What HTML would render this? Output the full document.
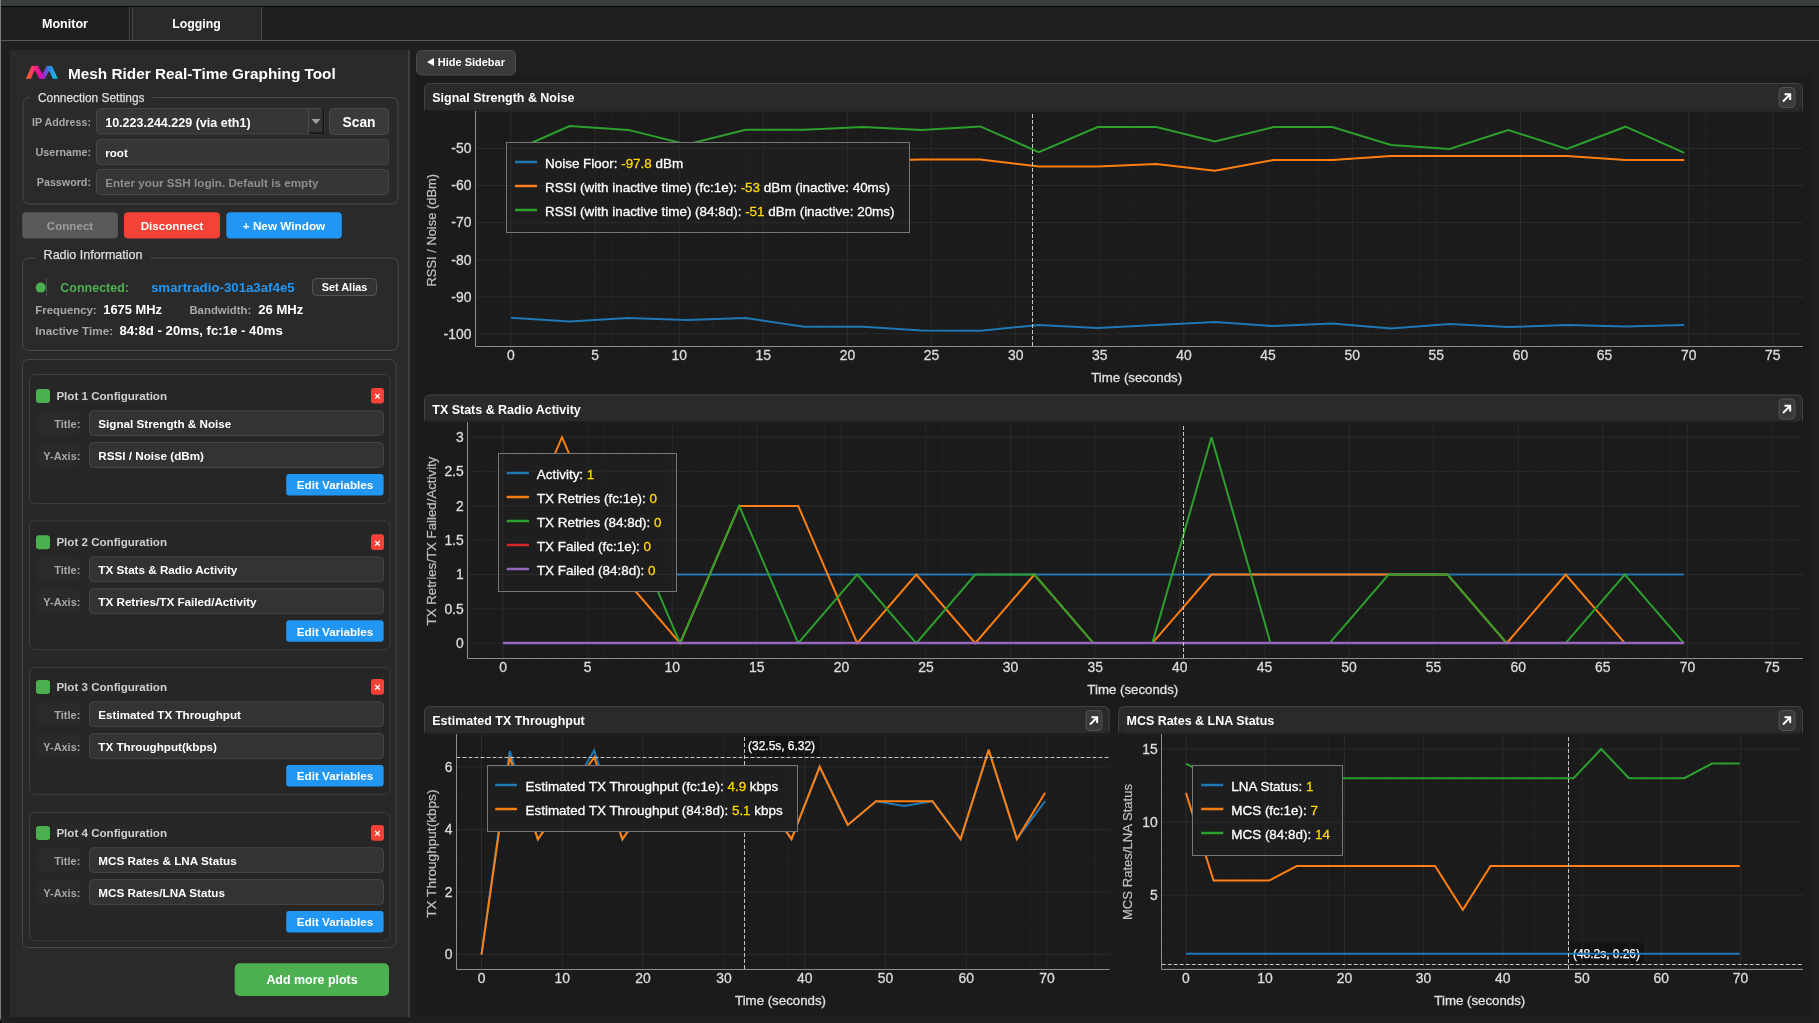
<!DOCTYPE html>
<html><head><meta charset="utf-8"><title>Mesh Rider Real-Time Graphing Tool</title>
<style>html,body{margin:0;padding:0;background:#1f1f1f;overflow:hidden;width:1819px;height:1023px}
svg{display:block} text{font-family:'Liberation Sans', sans-serif}</style></head>
<body><svg width="1819" height="1023" viewBox="0 0 1819 1023" font-family="Liberation Sans, sans-serif">
<rect x="0" y="0" width="1819" height="1023" fill="#1f1f1f"/>
<rect x="0" y="0" width="1819" height="6" fill="#383e3c"/>
<rect x="0" y="6" width="1819" height="1" fill="#050505"/>
<rect x="0" y="7" width="1819" height="33" fill="#1f1f1f"/>
<rect x="133" y="7" width="128" height="33" fill="#2a2a2a"/>
<rect x="129" y="7" width="1" height="33" fill="#4a4a4a"/>
<rect x="132" y="7" width="1" height="33" fill="#4a4a4a"/>
<rect x="261" y="7" width="1" height="33" fill="#4a4a4a"/>
<rect x="0" y="40" width="1819" height="1" fill="#575757"/>
<text x="65" y="28" font-size="12.55" fill="#fff" font-weight="bold" text-anchor="middle">Monitor</text>
<text x="196.5" y="28" font-size="12.3" fill="#fff" font-weight="bold" text-anchor="middle">Logging</text>
<rect x="0" y="0" width="1" height="1019" fill="#7c7c7c"/>
<path d="M0,1019 Q0.5,1021 3,1023 L0,1023 Z" fill="#000"/><path d="M0.5,1019 Q1,1021.5 3.5,1023" stroke="#444" fill="none"/>
<rect x="10" y="50" width="398" height="967" fill="#2a2a2a"/>
<rect x="408" y="50" width="2" height="967" fill="#3f3f3f"/>
<defs><linearGradient id="lg" gradientUnits="userSpaceOnUse" x1="26" y1="72" x2="58" y2="72"><stop offset="0" stop-color="#ff6a1a"/><stop offset="0.2" stop-color="#ff3a60"/><stop offset="0.38" stop-color="#f0109a"/><stop offset="0.5" stop-color="#d00cc0"/><stop offset="0.6" stop-color="#7a40d0"/><stop offset="0.68" stop-color="#3a78e0"/><stop offset="1" stop-color="#0cd0f0"/></linearGradient></defs>
<g fill="url(#lg)"><polygon points="26,78.8 30.9,78.8 36.6,65.9 31.7,65.9"/><polygon points="33,65.9 38.2,65.9 44.5,78.8 39.4,78.8"/><polygon points="39.8,78.8 44.9,78.8 51.4,65.9 46.5,65.9"/><polygon points="46.9,65.9 51.9,65.9 57.8,78.8 52.8,78.8"/><rect x="31.7" y="65.9" width="6.5" height="3"/><rect x="46.5" y="65.9" width="5.4" height="3"/></g>
<text x="68" y="78.8" font-size="15.34" fill="#fff" font-weight="bold">Mesh Rider Real-Time Graphing Tool</text>
<rect x="23.0" y="97.5" width="375" height="106.5" rx="6" fill="none" stroke="#4a4a4a" stroke-width="1"/>
<rect x="30" y="93" width="122.6" height="8" fill="#2a2a2a"/>
<text x="38" y="102.2" font-size="11.91" fill="#dedede" stroke="#dedede" stroke-width="0.25">Connection Settings</text>
<text x="91" y="125.5" font-size="10.72" fill="#a8a8a8" font-weight="bold" text-anchor="end">IP Address:</text>
<rect x="96.5" y="108.5" width="227.5" height="25.5" fill="#363636" rx="4" stroke="#474747" stroke-width="1"/>
<rect x="308.5" y="109" width="15.5" height="24.5" fill="#343434"/>
<rect x="308" y="109" width="1" height="24.5" fill="#4a4a4a"/>
<polygon points="311.5,119 320.5,119 316,124" fill="#a0a0a0"/>
<rect x="309" y="132.5" width="15" height="1.5" fill="#161616"/>
<rect x="322.5" y="109" width="1.5" height="25" fill="#161616"/>
<text x="105.2" y="126.5" font-size="12.53" fill="#fff" font-weight="bold">10.223.244.229 (via eth1)</text>
<rect x="329.5" y="108.5" width="59" height="26" fill="#3a3a3a" rx="4" stroke="#4a4a4a" stroke-width="1"/>
<text x="359" y="126.8" font-size="13.81" fill="#fff" font-weight="bold" text-anchor="middle">Scan</text>
<text x="91" y="156.2" font-size="10.72" fill="#a8a8a8" font-weight="bold" text-anchor="end">Username:</text>
<rect x="96.5" y="139.5" width="292" height="25" fill="#363636" rx="4" stroke="#474747" stroke-width="1"/>
<text x="105.2" y="157" font-size="11.63" fill="#fff" font-weight="bold">root</text>
<text x="91" y="186" font-size="10.72" fill="#a8a8a8" font-weight="bold" text-anchor="end">Password:</text>
<rect x="96.5" y="169.5" width="292" height="25" fill="#363636" rx="4" stroke="#474747" stroke-width="1"/>
<text x="105.2" y="187" font-size="11.68" fill="#8e8e8e" font-weight="bold">Enter your SSH login. Default is empty</text>
<rect x="22.2" y="212.2" width="95.7" height="26.3" fill="#5a5a5a" rx="4"/>
<text x="70" y="229.8" font-size="11.6" fill="#9c9c9c" font-weight="bold" text-anchor="middle">Connect</text>
<rect x="124" y="212.2" width="96" height="26.3" fill="#f44336" rx="4"/>
<text x="172" y="229.8" font-size="11.6" fill="#fff" font-weight="bold" text-anchor="middle">Disconnect</text>
<rect x="226.3" y="212.2" width="115.5" height="26.3" fill="#2196f3" rx="4"/>
<text x="284" y="229.8" font-size="11.75" fill="#fff" font-weight="bold" text-anchor="middle">+ New Window</text>
<rect x="22.7" y="258.0" width="375.5" height="92.5" rx="6" fill="none" stroke="#4a4a4a" stroke-width="1"/>
<rect x="35.6" y="253.5" width="115" height="8" fill="#2a2a2a"/>
<text x="43.6" y="258.8" font-size="12.54" fill="#dedede" stroke="#dedede" stroke-width="0.25">Radio Information</text>
<circle cx="40.7" cy="287.6" r="5" fill="#4caf50"/>
<rect x="46" y="278" width="1" height="18" fill="#4e4e4e"/>
<text x="60.3" y="292" font-size="12.49" fill="#4caf50" font-weight="bold">Connected:</text>
<text x="151" y="292" font-size="13.25" fill="#2196f3" font-weight="bold">smartradio-301a3af4e5</text>
<rect x="312.5" y="278.5" width="64" height="17" fill="#333333" rx="4" stroke="#555555" stroke-width="1"/>
<text x="344.5" y="290.6" font-size="10.89" fill="#fff" font-weight="bold" text-anchor="middle">Set Alias</text>
<text x="35.3" y="313.8" font-size="11.39" fill="#a8a8a8" font-weight="bold">Frequency:</text>
<text x="103.3" y="313.8" font-size="12.88" fill="#fff" font-weight="bold">1675 MHz</text>
<text x="189.4" y="313.8" font-size="11.39" fill="#a8a8a8" font-weight="bold">Bandwidth:</text>
<text x="258.3" y="313.8" font-size="13.06" fill="#fff" font-weight="bold">26 MHz</text>
<text x="35.3" y="334.6" font-size="11.7" fill="#a8a8a8" font-weight="bold">Inactive Time:</text>
<text x="119.4" y="334.6" font-size="13.19" fill="#fff" font-weight="bold">84:8d - 20ms, fc:1e - 40ms</text>
<rect x="22.5" y="359.5" width="373.5" height="588" rx="6" fill="#282828" stroke="#474747" stroke-width="1"/>
<rect x="29.5" y="374.5" width="360.5" height="129" rx="6" fill="#262626" stroke="#3e3e3e" stroke-width="1"/>
<rect x="36" y="389" width="14" height="14" fill="#4caf50" rx="3"/>
<rect x="54" y="387" width="104" height="17" fill="#282828" rx="8"/>
<text x="56.4" y="400" font-size="11.58" fill="#cfcfcf" font-weight="bold">Plot 1 Configuration</text>
<rect x="371" y="388" width="13" height="15.6" fill="#f44336" rx="3"/>
<text x="377.5" y="400.2" font-size="11" fill="#fff" font-weight="bold" text-anchor="middle">×</text>
<rect x="36.3" y="410.4" width="44.1" height="25.3" fill="#2a2a2a" rx="7"/>
<text x="80.4" y="427.8" font-size="11.05" fill="#a8a8a8" font-weight="bold" text-anchor="end">Title:</text>
<rect x="89.5" y="410.7" width="294" height="24.8" fill="#333333" rx="4" stroke="#464646" stroke-width="1"/>
<text x="98.3" y="428" font-size="11.68" fill="#fff" font-weight="bold">Signal Strength &amp; Noise</text>
<rect x="36.3" y="442.3" width="44.1" height="25.4" fill="#2a2a2a" rx="7"/>
<text x="80.4" y="459.8" font-size="10.94" fill="#a8a8a8" font-weight="bold" text-anchor="end">Y-Axis:</text>
<rect x="89.5" y="442.5" width="294" height="25" fill="#333333" rx="4" stroke="#464646" stroke-width="1"/>
<text x="98.3" y="460" font-size="11.68" fill="#fff" font-weight="bold">RSSI / Noise (dBm)</text>
<rect x="286.2" y="474" width="97.4" height="21.5" fill="#2196f3" rx="3"/>
<text x="335" y="489.2" font-size="11.68" fill="#fff" font-weight="bold" text-anchor="middle">Edit Variables</text>
<rect x="29.5" y="520.9" width="360.5" height="128.80000000000007" rx="6" fill="#262626" stroke="#3e3e3e" stroke-width="1"/>
<rect x="36" y="535.3" width="14" height="14" fill="#4caf50" rx="3"/>
<rect x="54" y="533.3" width="104" height="17" fill="#282828" rx="8"/>
<text x="56.4" y="546.3" font-size="11.58" fill="#cfcfcf" font-weight="bold">Plot 2 Configuration</text>
<rect x="371" y="534.3" width="13" height="15.6" fill="#f44336" rx="3"/>
<text x="377.5" y="546.5" font-size="11" fill="#fff" font-weight="bold" text-anchor="middle">×</text>
<rect x="36.3" y="556.6999999999999" width="44.1" height="25.3" fill="#2a2a2a" rx="7"/>
<text x="80.4" y="574.0999999999999" font-size="11.05" fill="#a8a8a8" font-weight="bold" text-anchor="end">Title:</text>
<rect x="89.5" y="557.0" width="294" height="24.8" fill="#333333" rx="4" stroke="#464646" stroke-width="1"/>
<text x="98.3" y="574.3" font-size="11.68" fill="#fff" font-weight="bold">TX Stats &amp; Radio Activity</text>
<rect x="36.3" y="588.5999999999999" width="44.1" height="25.4" fill="#2a2a2a" rx="7"/>
<text x="80.4" y="606.0999999999999" font-size="10.94" fill="#a8a8a8" font-weight="bold" text-anchor="end">Y-Axis:</text>
<rect x="89.5" y="588.8" width="294" height="25" fill="#333333" rx="4" stroke="#464646" stroke-width="1"/>
<text x="98.3" y="606.3" font-size="11.68" fill="#fff" font-weight="bold">TX Retries/TX Failed/Activity</text>
<rect x="286.2" y="620.3" width="97.4" height="21.5" fill="#2196f3" rx="3"/>
<text x="335" y="635.5" font-size="11.68" fill="#fff" font-weight="bold" text-anchor="middle">Edit Variables</text>
<rect x="29.5" y="667.4" width="360.5" height="127.0" rx="6" fill="#262626" stroke="#3e3e3e" stroke-width="1"/>
<rect x="36" y="680.1" width="14" height="14" fill="#4caf50" rx="3"/>
<rect x="54" y="678.1" width="104" height="17" fill="#282828" rx="8"/>
<text x="56.4" y="691.1" font-size="11.58" fill="#cfcfcf" font-weight="bold">Plot 3 Configuration</text>
<rect x="371" y="679.1" width="13" height="15.6" fill="#f44336" rx="3"/>
<text x="377.5" y="691.3000000000001" font-size="11" fill="#fff" font-weight="bold" text-anchor="middle">×</text>
<rect x="36.3" y="701.5" width="44.1" height="25.3" fill="#2a2a2a" rx="7"/>
<text x="80.4" y="718.9" font-size="11.05" fill="#a8a8a8" font-weight="bold" text-anchor="end">Title:</text>
<rect x="89.5" y="701.8000000000001" width="294" height="24.8" fill="#333333" rx="4" stroke="#464646" stroke-width="1"/>
<text x="98.3" y="719.1" font-size="11.68" fill="#fff" font-weight="bold">Estimated TX Throughput</text>
<rect x="36.3" y="733.4" width="44.1" height="25.4" fill="#2a2a2a" rx="7"/>
<text x="80.4" y="750.9" font-size="10.94" fill="#a8a8a8" font-weight="bold" text-anchor="end">Y-Axis:</text>
<rect x="89.5" y="733.6" width="294" height="25" fill="#333333" rx="4" stroke="#464646" stroke-width="1"/>
<text x="98.3" y="751.1" font-size="11.68" fill="#fff" font-weight="bold">TX Throughput(kbps)</text>
<rect x="286.2" y="765.1" width="97.4" height="21.5" fill="#2196f3" rx="3"/>
<text x="335" y="780.3000000000001" font-size="11.68" fill="#fff" font-weight="bold" text-anchor="middle">Edit Variables</text>
<rect x="29.5" y="812.3" width="360.5" height="128.5" rx="6" fill="#262626" stroke="#3e3e3e" stroke-width="1"/>
<rect x="36" y="826.1" width="14" height="14" fill="#4caf50" rx="3"/>
<rect x="54" y="824.1" width="104" height="17" fill="#282828" rx="8"/>
<text x="56.4" y="837.1" font-size="11.58" fill="#cfcfcf" font-weight="bold">Plot 4 Configuration</text>
<rect x="371" y="825.1" width="13" height="15.6" fill="#f44336" rx="3"/>
<text x="377.5" y="837.3000000000001" font-size="11" fill="#fff" font-weight="bold" text-anchor="middle">×</text>
<rect x="36.3" y="847.5" width="44.1" height="25.3" fill="#2a2a2a" rx="7"/>
<text x="80.4" y="864.9" font-size="11.05" fill="#a8a8a8" font-weight="bold" text-anchor="end">Title:</text>
<rect x="89.5" y="847.8000000000001" width="294" height="24.8" fill="#333333" rx="4" stroke="#464646" stroke-width="1"/>
<text x="98.3" y="865.1" font-size="11.68" fill="#fff" font-weight="bold">MCS Rates &amp; LNA Status</text>
<rect x="36.3" y="879.4" width="44.1" height="25.4" fill="#2a2a2a" rx="7"/>
<text x="80.4" y="896.9" font-size="10.94" fill="#a8a8a8" font-weight="bold" text-anchor="end">Y-Axis:</text>
<rect x="89.5" y="879.6" width="294" height="25" fill="#333333" rx="4" stroke="#464646" stroke-width="1"/>
<text x="98.3" y="897.1" font-size="11.68" fill="#fff" font-weight="bold">MCS Rates/LNA Status</text>
<rect x="286.2" y="911.1" width="97.4" height="21.5" fill="#2196f3" rx="3"/>
<text x="335" y="926.3000000000001" font-size="11.68" fill="#fff" font-weight="bold" text-anchor="middle">Edit Variables</text>
<rect x="234.7" y="963.2" width="154.3" height="32.8" fill="#4caf50" rx="5"/>
<text x="312" y="984.2" font-size="12.44" fill="#fff" font-weight="bold" text-anchor="middle">Add more plots</text>
<rect x="416" y="75" width="1395" height="942" fill="#1b1b1b"/>
<rect x="416.5" y="50.5" width="99" height="24.5" fill="#3a3a3a" rx="5" stroke="#4c4c4c" stroke-width="1"/>
<polygon points="427,62 434,58 434,66" fill="#fff"/>
<text x="437.8" y="66" font-size="10.99" fill="#fff" font-weight="bold">Hide Sidebar</text>
<rect x="424" y="83" width="1379" height="27.5" rx="6" fill="#2a2a2a"/>
<path d="M424.5,110.5 V89.5 Q424.5,83.5 430.5,83.5 H1796.5 Q1802.5,83.5 1802.5,89.5 V110.5" fill="none" stroke="#424242" stroke-width="1"/>
<text x="432.3" y="102" font-size="12.47" fill="#fff" font-weight="bold">Signal Strength &amp; Noise</text>
<rect x="1779.0" y="87.5" width="16" height="20" rx="4" fill="#3a3a3a" stroke="#535353" stroke-width="1"/>
<path d="M1783.0,101.5 L1790.0,94.5 M1784.5,94.3 H1790.2 V100.0" stroke="#fff" stroke-width="2" fill="none"/>
<polyline points="510.9,317.8 569.6,321.5 628.2,318.0 686.9,320.0 745.6,318.0 804.2,326.7 862.9,326.7 921.6,330.5 980.3,330.8 1038.9,325.0 1097.6,328.0 1156.3,325.0 1214.9,322.0 1273.6,326.0 1332.3,323.5 1391.0,328.5 1449.6,324.0 1508.3,327.0 1567.0,325.0 1625.6,326.5 1684.3,325.0" fill="none" stroke="#1f77b4" stroke-width="2" stroke-linejoin="miter" stroke-miterlimit="3"/>
<polyline points="510.9,161.0 569.6,161.0 628.2,161.0 686.9,161.0 745.6,161.0 804.2,161.0 862.9,161.0 921.6,159.6 980.3,159.6 1038.9,166.4 1097.6,166.4 1156.3,164.0 1214.9,170.7 1273.6,160.0 1332.3,160.0 1391.0,156.0 1449.6,156.0 1508.3,156.0 1567.0,156.0 1625.6,160.0 1684.3,160.0" fill="none" stroke="#ff7f0e" stroke-width="2" stroke-linejoin="miter" stroke-miterlimit="3"/>
<polyline points="510.9,152.0 569.6,126.1 628.2,129.9 686.9,144.5 745.6,129.7 804.2,129.7 862.9,126.9 921.6,129.9 980.3,126.4 1038.9,152.1 1097.6,127.1 1156.3,127.1 1214.9,141.4 1273.6,127.1 1332.3,127.1 1391.0,145.0 1449.6,149.0 1508.3,130.0 1567.0,148.9 1625.6,126.7 1684.3,152.9" fill="none" stroke="#2ca02c" stroke-width="2" stroke-linejoin="miter" stroke-miterlimit="3"/>
<path d="M1032.5,114 V346" stroke="#c8c8c8" stroke-width="1" stroke-dasharray="4,2" fill="none"/>
<rect x="506.5" y="142.5" width="403.0" height="90.0" fill="#1e1e1e" stroke="#777777" stroke-width="1"/>
<line x1="515" y1="162" x2="537" y2="162" stroke="#1f77b4" stroke-width="2.5"/>
<text x="545" y="168" font-size="13.45" fill="#fff" stroke-width="0.3"><tspan fill="#fff" stroke="#fff">Noise Floor: </tspan><tspan fill="#ffd700" stroke="#ffd700">-97.8</tspan><tspan fill="#fff" stroke="#fff"> dBm</tspan></text>
<line x1="515" y1="186" x2="537" y2="186" stroke="#ff7f0e" stroke-width="2.5"/>
<text x="545" y="192" font-size="13.45" fill="#fff" stroke-width="0.3"><tspan fill="#fff" stroke="#fff">RSSI (with inactive time) (fc:1e): </tspan><tspan fill="#ffd700" stroke="#ffd700">-53</tspan><tspan fill="#fff" stroke="#fff"> dBm (inactive: 40ms)</tspan></text>
<line x1="515" y1="210" x2="537" y2="210" stroke="#2ca02c" stroke-width="2.5"/>
<text x="545" y="216" font-size="13.45" fill="#fff" stroke-width="0.3"><tspan fill="#fff" stroke="#fff">RSSI (with inactive time) (84:8d): </tspan><tspan fill="#ffd700" stroke="#ffd700">-51</tspan><tspan fill="#fff" stroke="#fff"> dBm (inactive: 20ms)</tspan></text>
<path d="M477.2,111 V346.3" stroke="#212121" stroke-width="1" fill="none" style="mix-blend-mode:lighten"/>
<path d="M494.1,111 V346.3" stroke="#212121" stroke-width="1" fill="none" style="mix-blend-mode:lighten"/>
<path d="M510.9,111 V346.3" stroke="#2c2c2c" stroke-width="1" fill="none" style="mix-blend-mode:lighten"/>
<path d="M527.7,111 V346.3" stroke="#212121" stroke-width="1" fill="none" style="mix-blend-mode:lighten"/>
<path d="M544.6,111 V346.3" stroke="#212121" stroke-width="1" fill="none" style="mix-blend-mode:lighten"/>
<path d="M561.4,111 V346.3" stroke="#212121" stroke-width="1" fill="none" style="mix-blend-mode:lighten"/>
<path d="M578.2,111 V346.3" stroke="#212121" stroke-width="1" fill="none" style="mix-blend-mode:lighten"/>
<path d="M595.0,111 V346.3" stroke="#282828" stroke-width="1" fill="none" style="mix-blend-mode:lighten"/>
<path d="M611.9,111 V346.3" stroke="#212121" stroke-width="1" fill="none" style="mix-blend-mode:lighten"/>
<path d="M628.7,111 V346.3" stroke="#212121" stroke-width="1" fill="none" style="mix-blend-mode:lighten"/>
<path d="M645.5,111 V346.3" stroke="#212121" stroke-width="1" fill="none" style="mix-blend-mode:lighten"/>
<path d="M662.3,111 V346.3" stroke="#212121" stroke-width="1" fill="none" style="mix-blend-mode:lighten"/>
<path d="M679.2,111 V346.3" stroke="#2c2c2c" stroke-width="1" fill="none" style="mix-blend-mode:lighten"/>
<path d="M696.0,111 V346.3" stroke="#212121" stroke-width="1" fill="none" style="mix-blend-mode:lighten"/>
<path d="M712.8,111 V346.3" stroke="#212121" stroke-width="1" fill="none" style="mix-blend-mode:lighten"/>
<path d="M729.6,111 V346.3" stroke="#212121" stroke-width="1" fill="none" style="mix-blend-mode:lighten"/>
<path d="M746.5,111 V346.3" stroke="#212121" stroke-width="1" fill="none" style="mix-blend-mode:lighten"/>
<path d="M763.3,111 V346.3" stroke="#282828" stroke-width="1" fill="none" style="mix-blend-mode:lighten"/>
<path d="M780.1,111 V346.3" stroke="#212121" stroke-width="1" fill="none" style="mix-blend-mode:lighten"/>
<path d="M796.9,111 V346.3" stroke="#212121" stroke-width="1" fill="none" style="mix-blend-mode:lighten"/>
<path d="M813.8,111 V346.3" stroke="#212121" stroke-width="1" fill="none" style="mix-blend-mode:lighten"/>
<path d="M830.6,111 V346.3" stroke="#212121" stroke-width="1" fill="none" style="mix-blend-mode:lighten"/>
<path d="M847.4,111 V346.3" stroke="#2c2c2c" stroke-width="1" fill="none" style="mix-blend-mode:lighten"/>
<path d="M864.2,111 V346.3" stroke="#212121" stroke-width="1" fill="none" style="mix-blend-mode:lighten"/>
<path d="M881.1,111 V346.3" stroke="#212121" stroke-width="1" fill="none" style="mix-blend-mode:lighten"/>
<path d="M897.9,111 V346.3" stroke="#212121" stroke-width="1" fill="none" style="mix-blend-mode:lighten"/>
<path d="M914.7,111 V346.3" stroke="#212121" stroke-width="1" fill="none" style="mix-blend-mode:lighten"/>
<path d="M931.5,111 V346.3" stroke="#282828" stroke-width="1" fill="none" style="mix-blend-mode:lighten"/>
<path d="M948.4,111 V346.3" stroke="#212121" stroke-width="1" fill="none" style="mix-blend-mode:lighten"/>
<path d="M965.2,111 V346.3" stroke="#212121" stroke-width="1" fill="none" style="mix-blend-mode:lighten"/>
<path d="M982.0,111 V346.3" stroke="#212121" stroke-width="1" fill="none" style="mix-blend-mode:lighten"/>
<path d="M998.9,111 V346.3" stroke="#212121" stroke-width="1" fill="none" style="mix-blend-mode:lighten"/>
<path d="M1015.7,111 V346.3" stroke="#2c2c2c" stroke-width="1" fill="none" style="mix-blend-mode:lighten"/>
<path d="M1032.5,111 V346.3" stroke="#212121" stroke-width="1" fill="none" style="mix-blend-mode:lighten"/>
<path d="M1049.3,111 V346.3" stroke="#212121" stroke-width="1" fill="none" style="mix-blend-mode:lighten"/>
<path d="M1066.2,111 V346.3" stroke="#212121" stroke-width="1" fill="none" style="mix-blend-mode:lighten"/>
<path d="M1083.0,111 V346.3" stroke="#212121" stroke-width="1" fill="none" style="mix-blend-mode:lighten"/>
<path d="M1099.8,111 V346.3" stroke="#282828" stroke-width="1" fill="none" style="mix-blend-mode:lighten"/>
<path d="M1116.6,111 V346.3" stroke="#212121" stroke-width="1" fill="none" style="mix-blend-mode:lighten"/>
<path d="M1133.5,111 V346.3" stroke="#212121" stroke-width="1" fill="none" style="mix-blend-mode:lighten"/>
<path d="M1150.3,111 V346.3" stroke="#212121" stroke-width="1" fill="none" style="mix-blend-mode:lighten"/>
<path d="M1167.1,111 V346.3" stroke="#212121" stroke-width="1" fill="none" style="mix-blend-mode:lighten"/>
<path d="M1183.9,111 V346.3" stroke="#2c2c2c" stroke-width="1" fill="none" style="mix-blend-mode:lighten"/>
<path d="M1200.8,111 V346.3" stroke="#212121" stroke-width="1" fill="none" style="mix-blend-mode:lighten"/>
<path d="M1217.6,111 V346.3" stroke="#212121" stroke-width="1" fill="none" style="mix-blend-mode:lighten"/>
<path d="M1234.4,111 V346.3" stroke="#212121" stroke-width="1" fill="none" style="mix-blend-mode:lighten"/>
<path d="M1251.2,111 V346.3" stroke="#212121" stroke-width="1" fill="none" style="mix-blend-mode:lighten"/>
<path d="M1268.1,111 V346.3" stroke="#282828" stroke-width="1" fill="none" style="mix-blend-mode:lighten"/>
<path d="M1284.9,111 V346.3" stroke="#212121" stroke-width="1" fill="none" style="mix-blend-mode:lighten"/>
<path d="M1301.7,111 V346.3" stroke="#212121" stroke-width="1" fill="none" style="mix-blend-mode:lighten"/>
<path d="M1318.5,111 V346.3" stroke="#212121" stroke-width="1" fill="none" style="mix-blend-mode:lighten"/>
<path d="M1335.4,111 V346.3" stroke="#212121" stroke-width="1" fill="none" style="mix-blend-mode:lighten"/>
<path d="M1352.2,111 V346.3" stroke="#2c2c2c" stroke-width="1" fill="none" style="mix-blend-mode:lighten"/>
<path d="M1369.0,111 V346.3" stroke="#212121" stroke-width="1" fill="none" style="mix-blend-mode:lighten"/>
<path d="M1385.9,111 V346.3" stroke="#212121" stroke-width="1" fill="none" style="mix-blend-mode:lighten"/>
<path d="M1402.7,111 V346.3" stroke="#212121" stroke-width="1" fill="none" style="mix-blend-mode:lighten"/>
<path d="M1419.5,111 V346.3" stroke="#212121" stroke-width="1" fill="none" style="mix-blend-mode:lighten"/>
<path d="M1436.3,111 V346.3" stroke="#282828" stroke-width="1" fill="none" style="mix-blend-mode:lighten"/>
<path d="M1453.2,111 V346.3" stroke="#212121" stroke-width="1" fill="none" style="mix-blend-mode:lighten"/>
<path d="M1470.0,111 V346.3" stroke="#212121" stroke-width="1" fill="none" style="mix-blend-mode:lighten"/>
<path d="M1486.8,111 V346.3" stroke="#212121" stroke-width="1" fill="none" style="mix-blend-mode:lighten"/>
<path d="M1503.6,111 V346.3" stroke="#212121" stroke-width="1" fill="none" style="mix-blend-mode:lighten"/>
<path d="M1520.5,111 V346.3" stroke="#2c2c2c" stroke-width="1" fill="none" style="mix-blend-mode:lighten"/>
<path d="M1537.3,111 V346.3" stroke="#212121" stroke-width="1" fill="none" style="mix-blend-mode:lighten"/>
<path d="M1554.1,111 V346.3" stroke="#212121" stroke-width="1" fill="none" style="mix-blend-mode:lighten"/>
<path d="M1570.9,111 V346.3" stroke="#212121" stroke-width="1" fill="none" style="mix-blend-mode:lighten"/>
<path d="M1587.8,111 V346.3" stroke="#212121" stroke-width="1" fill="none" style="mix-blend-mode:lighten"/>
<path d="M1604.6,111 V346.3" stroke="#282828" stroke-width="1" fill="none" style="mix-blend-mode:lighten"/>
<path d="M1621.4,111 V346.3" stroke="#212121" stroke-width="1" fill="none" style="mix-blend-mode:lighten"/>
<path d="M1638.2,111 V346.3" stroke="#212121" stroke-width="1" fill="none" style="mix-blend-mode:lighten"/>
<path d="M1655.1,111 V346.3" stroke="#212121" stroke-width="1" fill="none" style="mix-blend-mode:lighten"/>
<path d="M1671.9,111 V346.3" stroke="#212121" stroke-width="1" fill="none" style="mix-blend-mode:lighten"/>
<path d="M1688.7,111 V346.3" stroke="#2c2c2c" stroke-width="1" fill="none" style="mix-blend-mode:lighten"/>
<path d="M1705.5,111 V346.3" stroke="#212121" stroke-width="1" fill="none" style="mix-blend-mode:lighten"/>
<path d="M1722.4,111 V346.3" stroke="#212121" stroke-width="1" fill="none" style="mix-blend-mode:lighten"/>
<path d="M1739.2,111 V346.3" stroke="#212121" stroke-width="1" fill="none" style="mix-blend-mode:lighten"/>
<path d="M1756.0,111 V346.3" stroke="#212121" stroke-width="1" fill="none" style="mix-blend-mode:lighten"/>
<path d="M1772.8,111 V346.3" stroke="#282828" stroke-width="1" fill="none" style="mix-blend-mode:lighten"/>
<path d="M1789.7,111 V346.3" stroke="#212121" stroke-width="1" fill="none" style="mix-blend-mode:lighten"/>
<path d="M475.4,341.3 H1803" stroke="#1f1f1f" stroke-width="1" fill="none" style="mix-blend-mode:lighten"/>
<path d="M475.4,333.9 H1803" stroke="#2b2b2b" stroke-width="1" fill="none" style="mix-blend-mode:lighten"/>
<path d="M475.4,326.5 H1803" stroke="#1f1f1f" stroke-width="1" fill="none" style="mix-blend-mode:lighten"/>
<path d="M475.4,319.1 H1803" stroke="#1f1f1f" stroke-width="1" fill="none" style="mix-blend-mode:lighten"/>
<path d="M475.4,311.6 H1803" stroke="#1f1f1f" stroke-width="1" fill="none" style="mix-blend-mode:lighten"/>
<path d="M475.4,304.2 H1803" stroke="#1f1f1f" stroke-width="1" fill="none" style="mix-blend-mode:lighten"/>
<path d="M475.4,296.8 H1803" stroke="#2b2b2b" stroke-width="1" fill="none" style="mix-blend-mode:lighten"/>
<path d="M475.4,289.4 H1803" stroke="#1f1f1f" stroke-width="1" fill="none" style="mix-blend-mode:lighten"/>
<path d="M475.4,282.0 H1803" stroke="#1f1f1f" stroke-width="1" fill="none" style="mix-blend-mode:lighten"/>
<path d="M475.4,274.5 H1803" stroke="#1f1f1f" stroke-width="1" fill="none" style="mix-blend-mode:lighten"/>
<path d="M475.4,267.1 H1803" stroke="#1f1f1f" stroke-width="1" fill="none" style="mix-blend-mode:lighten"/>
<path d="M475.4,259.7 H1803" stroke="#2b2b2b" stroke-width="1" fill="none" style="mix-blend-mode:lighten"/>
<path d="M475.4,252.3 H1803" stroke="#1f1f1f" stroke-width="1" fill="none" style="mix-blend-mode:lighten"/>
<path d="M475.4,244.9 H1803" stroke="#1f1f1f" stroke-width="1" fill="none" style="mix-blend-mode:lighten"/>
<path d="M475.4,237.4 H1803" stroke="#1f1f1f" stroke-width="1" fill="none" style="mix-blend-mode:lighten"/>
<path d="M475.4,230.0 H1803" stroke="#1f1f1f" stroke-width="1" fill="none" style="mix-blend-mode:lighten"/>
<path d="M475.4,222.6 H1803" stroke="#2b2b2b" stroke-width="1" fill="none" style="mix-blend-mode:lighten"/>
<path d="M475.4,215.2 H1803" stroke="#1f1f1f" stroke-width="1" fill="none" style="mix-blend-mode:lighten"/>
<path d="M475.4,207.8 H1803" stroke="#1f1f1f" stroke-width="1" fill="none" style="mix-blend-mode:lighten"/>
<path d="M475.4,200.3 H1803" stroke="#1f1f1f" stroke-width="1" fill="none" style="mix-blend-mode:lighten"/>
<path d="M475.4,192.9 H1803" stroke="#1f1f1f" stroke-width="1" fill="none" style="mix-blend-mode:lighten"/>
<path d="M475.4,185.5 H1803" stroke="#2b2b2b" stroke-width="1" fill="none" style="mix-blend-mode:lighten"/>
<path d="M475.4,178.1 H1803" stroke="#1f1f1f" stroke-width="1" fill="none" style="mix-blend-mode:lighten"/>
<path d="M475.4,170.7 H1803" stroke="#1f1f1f" stroke-width="1" fill="none" style="mix-blend-mode:lighten"/>
<path d="M475.4,163.2 H1803" stroke="#1f1f1f" stroke-width="1" fill="none" style="mix-blend-mode:lighten"/>
<path d="M475.4,155.8 H1803" stroke="#1f1f1f" stroke-width="1" fill="none" style="mix-blend-mode:lighten"/>
<path d="M475.4,148.4 H1803" stroke="#2b2b2b" stroke-width="1" fill="none" style="mix-blend-mode:lighten"/>
<path d="M475.4,141.0 H1803" stroke="#1f1f1f" stroke-width="1" fill="none" style="mix-blend-mode:lighten"/>
<path d="M475.4,133.6 H1803" stroke="#1f1f1f" stroke-width="1" fill="none" style="mix-blend-mode:lighten"/>
<path d="M475.4,126.1 H1803" stroke="#1f1f1f" stroke-width="1" fill="none" style="mix-blend-mode:lighten"/>
<path d="M475.4,118.7 H1803" stroke="#1f1f1f" stroke-width="1" fill="none" style="mix-blend-mode:lighten"/>
<path d="M475.4,111.3 H1803" stroke="#2b2b2b" stroke-width="1" fill="none" style="mix-blend-mode:lighten"/>
<path d="M475.5,111 V346.5 H1803" stroke="#8e8e8e" stroke-width="1" fill="none"/>
<text x="510.9" y="360.3" font-size="13.9" fill="#dcdcdc" text-anchor="middle" stroke="#dcdcdc" stroke-width="0.3">0</text>
<text x="595.0" y="360.3" font-size="13.9" fill="#dcdcdc" text-anchor="middle" stroke="#dcdcdc" stroke-width="0.3">5</text>
<text x="679.2" y="360.3" font-size="13.9" fill="#dcdcdc" text-anchor="middle" stroke="#dcdcdc" stroke-width="0.3">10</text>
<text x="763.3" y="360.3" font-size="13.9" fill="#dcdcdc" text-anchor="middle" stroke="#dcdcdc" stroke-width="0.3">15</text>
<text x="847.4" y="360.3" font-size="13.9" fill="#dcdcdc" text-anchor="middle" stroke="#dcdcdc" stroke-width="0.3">20</text>
<text x="931.5" y="360.3" font-size="13.9" fill="#dcdcdc" text-anchor="middle" stroke="#dcdcdc" stroke-width="0.3">25</text>
<text x="1015.7" y="360.3" font-size="13.9" fill="#dcdcdc" text-anchor="middle" stroke="#dcdcdc" stroke-width="0.3">30</text>
<text x="1099.8" y="360.3" font-size="13.9" fill="#dcdcdc" text-anchor="middle" stroke="#dcdcdc" stroke-width="0.3">35</text>
<text x="1183.9" y="360.3" font-size="13.9" fill="#dcdcdc" text-anchor="middle" stroke="#dcdcdc" stroke-width="0.3">40</text>
<text x="1268.1" y="360.3" font-size="13.9" fill="#dcdcdc" text-anchor="middle" stroke="#dcdcdc" stroke-width="0.3">45</text>
<text x="1352.2" y="360.3" font-size="13.9" fill="#dcdcdc" text-anchor="middle" stroke="#dcdcdc" stroke-width="0.3">50</text>
<text x="1436.3" y="360.3" font-size="13.9" fill="#dcdcdc" text-anchor="middle" stroke="#dcdcdc" stroke-width="0.3">55</text>
<text x="1520.5" y="360.3" font-size="13.9" fill="#dcdcdc" text-anchor="middle" stroke="#dcdcdc" stroke-width="0.3">60</text>
<text x="1604.6" y="360.3" font-size="13.9" fill="#dcdcdc" text-anchor="middle" stroke="#dcdcdc" stroke-width="0.3">65</text>
<text x="1688.7" y="360.3" font-size="13.9" fill="#dcdcdc" text-anchor="middle" stroke="#dcdcdc" stroke-width="0.3">70</text>
<text x="1772.8" y="360.3" font-size="13.9" fill="#dcdcdc" text-anchor="middle" stroke="#dcdcdc" stroke-width="0.3">75</text>
<text x="471.4" y="153.2" font-size="13.9" fill="#dcdcdc" text-anchor="end" stroke="#dcdcdc" stroke-width="0.3">-50</text>
<text x="471.4" y="190.3" font-size="13.9" fill="#dcdcdc" text-anchor="end" stroke="#dcdcdc" stroke-width="0.3">-60</text>
<text x="471.4" y="227.4" font-size="13.9" fill="#dcdcdc" text-anchor="end" stroke="#dcdcdc" stroke-width="0.3">-70</text>
<text x="471.4" y="264.5" font-size="13.9" fill="#dcdcdc" text-anchor="end" stroke="#dcdcdc" stroke-width="0.3">-80</text>
<text x="471.4" y="301.6" font-size="13.9" fill="#dcdcdc" text-anchor="end" stroke="#dcdcdc" stroke-width="0.3">-90</text>
<text x="471.4" y="338.7" font-size="13.9" fill="#dcdcdc" text-anchor="end" stroke="#dcdcdc" stroke-width="0.3">-100</text>
<text x="1136.7" y="382.3" font-size="13.28" fill="#e0e0e0" text-anchor="middle" stroke="#e0e0e0" stroke-width="0.3">Time (seconds)</text>
<text transform="translate(436.4,230.2) rotate(-90)" x="0" y="0" font-size="12.9" fill="#bdbdbd" stroke="#bdbdbd" stroke-width="0.25" text-anchor="middle">RSSI / Noise (dBm)</text>
<rect x="424" y="394.5" width="1379" height="27.0" rx="6" fill="#2a2a2a"/>
<path d="M424.5,421.5 V401.0 Q424.5,395.0 430.5,395.0 H1796.5 Q1802.5,395.0 1802.5,401.0 V421.5" fill="none" stroke="#424242" stroke-width="1"/>
<text x="432.3" y="413.5" font-size="12.47" fill="#fff" font-weight="bold">TX Stats &amp; Radio Activity</text>
<rect x="1779.0" y="399.0" width="16" height="20" rx="4" fill="#3a3a3a" stroke="#535353" stroke-width="1"/>
<path d="M1783.0,413.0 L1790.0,406.0 M1784.5,405.8 H1790.2 V411.5" stroke="#fff" stroke-width="2" fill="none"/>
<polyline points="503.0,574.5 562.0,574.5 621.1,574.5 680.1,574.5 739.2,574.5 798.2,574.5 857.2,574.5 916.3,574.5 975.3,574.5 1034.4,574.5 1093.4,574.5 1152.4,574.5 1211.5,574.5 1270.5,574.5 1329.6,574.5 1388.6,574.5 1447.6,574.5 1506.7,574.5 1565.7,574.5 1624.8,574.5 1683.8,574.5" fill="none" stroke="#1f77b4" stroke-width="2" stroke-linejoin="miter" stroke-miterlimit="3"/>
<polyline points="503.0,574.5 562.0,437.2 621.1,574.5 680.1,643.1 739.2,505.9 798.2,505.9 857.2,643.1 916.3,574.5 975.3,643.1 1034.4,574.5 1093.4,643.1 1152.4,643.1 1211.5,574.5 1270.5,574.5 1329.6,574.5 1388.6,574.5 1447.6,574.5 1506.7,643.1 1565.7,574.5 1624.8,643.1 1683.8,643.1" fill="none" stroke="#ff7f0e" stroke-width="2" stroke-linejoin="miter" stroke-miterlimit="3"/>
<polyline points="503.0,574.5 562.0,574.5 621.1,505.9 680.1,643.1 739.2,505.9 798.2,643.1 857.2,574.5 916.3,643.1 975.3,574.5 1034.4,574.5 1093.4,643.1 1152.4,643.1 1211.5,437.2 1270.5,643.1 1329.6,643.1 1388.6,574.5 1447.6,574.5 1506.7,643.1 1565.7,643.1 1624.8,574.5 1683.8,643.1" fill="none" stroke="#2ca02c" stroke-width="2" stroke-linejoin="miter" stroke-miterlimit="3"/>
<polyline points="503.0,643.1 562.0,643.1 621.1,643.1 680.1,643.1 739.2,643.1 798.2,643.1 857.2,643.1 916.3,643.1 975.3,643.1 1034.4,643.1 1093.4,643.1 1152.4,643.1 1211.5,643.1 1270.5,643.1 1329.6,643.1 1388.6,643.1 1447.6,643.1 1506.7,643.1 1565.7,643.1 1624.8,643.1 1683.8,643.1" fill="none" stroke="#d62728" stroke-width="2" stroke-linejoin="miter" stroke-miterlimit="3"/>
<polyline points="503.0,643.1 562.0,643.1 621.1,643.1 680.1,643.1 739.2,643.1 798.2,643.1 857.2,643.1 916.3,643.1 975.3,643.1 1034.4,643.1 1093.4,643.1 1152.4,643.1 1211.5,643.1 1270.5,643.1 1329.6,643.1 1388.6,643.1 1447.6,643.1 1506.7,643.1 1565.7,643.1 1624.8,643.1 1683.8,643.1" fill="none" stroke="#9467bd" stroke-width="2.5" stroke-linejoin="miter" stroke-miterlimit="3"/>
<path d="M1183.5,426 V658" stroke="#c8c8c8" stroke-width="1" stroke-dasharray="4,2" fill="none"/>
<rect x="498.5" y="453.5" width="178.0" height="138.0" fill="#1e1e1e" stroke="#777777" stroke-width="1"/>
<line x1="506.7" y1="473" x2="529" y2="473" stroke="#1f77b4" stroke-width="2.5"/>
<text x="536.8" y="479" font-size="13.45" fill="#fff" stroke-width="0.3"><tspan fill="#fff" stroke="#fff">Activity: </tspan><tspan fill="#ffd700" stroke="#ffd700">1</tspan></text>
<line x1="506.7" y1="497" x2="529" y2="497" stroke="#ff7f0e" stroke-width="2.5"/>
<text x="536.8" y="503" font-size="13.45" fill="#fff" stroke-width="0.3"><tspan fill="#fff" stroke="#fff">TX Retries (fc:1e): </tspan><tspan fill="#ffd700" stroke="#ffd700">0</tspan></text>
<line x1="506.7" y1="521" x2="529" y2="521" stroke="#2ca02c" stroke-width="2.5"/>
<text x="536.8" y="527" font-size="13.45" fill="#fff" stroke-width="0.3"><tspan fill="#fff" stroke="#fff">TX Retries (84:8d): </tspan><tspan fill="#ffd700" stroke="#ffd700">0</tspan></text>
<line x1="506.7" y1="545" x2="529" y2="545" stroke="#d62728" stroke-width="2.5"/>
<text x="536.8" y="551" font-size="13.45" fill="#fff" stroke-width="0.3"><tspan fill="#fff" stroke="#fff">TX Failed (fc:1e): </tspan><tspan fill="#ffd700" stroke="#ffd700">0</tspan></text>
<line x1="506.7" y1="569" x2="529" y2="569" stroke="#9467bd" stroke-width="2.5"/>
<text x="536.8" y="575" font-size="13.45" fill="#fff" stroke-width="0.3"><tspan fill="#fff" stroke="#fff">TX Failed (84:8d): </tspan><tspan fill="#ffd700" stroke="#ffd700">0</tspan></text>
<path d="M469.2,422 V658" stroke="#212121" stroke-width="1" fill="none" style="mix-blend-mode:lighten"/>
<path d="M486.1,422 V658" stroke="#212121" stroke-width="1" fill="none" style="mix-blend-mode:lighten"/>
<path d="M503.0,422 V658" stroke="#2c2c2c" stroke-width="1" fill="none" style="mix-blend-mode:lighten"/>
<path d="M519.9,422 V658" stroke="#212121" stroke-width="1" fill="none" style="mix-blend-mode:lighten"/>
<path d="M536.8,422 V658" stroke="#212121" stroke-width="1" fill="none" style="mix-blend-mode:lighten"/>
<path d="M553.8,422 V658" stroke="#212121" stroke-width="1" fill="none" style="mix-blend-mode:lighten"/>
<path d="M570.7,422 V658" stroke="#212121" stroke-width="1" fill="none" style="mix-blend-mode:lighten"/>
<path d="M587.6,422 V658" stroke="#282828" stroke-width="1" fill="none" style="mix-blend-mode:lighten"/>
<path d="M604.5,422 V658" stroke="#212121" stroke-width="1" fill="none" style="mix-blend-mode:lighten"/>
<path d="M621.4,422 V658" stroke="#212121" stroke-width="1" fill="none" style="mix-blend-mode:lighten"/>
<path d="M638.4,422 V658" stroke="#212121" stroke-width="1" fill="none" style="mix-blend-mode:lighten"/>
<path d="M655.3,422 V658" stroke="#212121" stroke-width="1" fill="none" style="mix-blend-mode:lighten"/>
<path d="M672.2,422 V658" stroke="#2c2c2c" stroke-width="1" fill="none" style="mix-blend-mode:lighten"/>
<path d="M689.1,422 V658" stroke="#212121" stroke-width="1" fill="none" style="mix-blend-mode:lighten"/>
<path d="M706.0,422 V658" stroke="#212121" stroke-width="1" fill="none" style="mix-blend-mode:lighten"/>
<path d="M723.0,422 V658" stroke="#212121" stroke-width="1" fill="none" style="mix-blend-mode:lighten"/>
<path d="M739.9,422 V658" stroke="#212121" stroke-width="1" fill="none" style="mix-blend-mode:lighten"/>
<path d="M756.8,422 V658" stroke="#282828" stroke-width="1" fill="none" style="mix-blend-mode:lighten"/>
<path d="M773.7,422 V658" stroke="#212121" stroke-width="1" fill="none" style="mix-blend-mode:lighten"/>
<path d="M790.6,422 V658" stroke="#212121" stroke-width="1" fill="none" style="mix-blend-mode:lighten"/>
<path d="M807.6,422 V658" stroke="#212121" stroke-width="1" fill="none" style="mix-blend-mode:lighten"/>
<path d="M824.5,422 V658" stroke="#212121" stroke-width="1" fill="none" style="mix-blend-mode:lighten"/>
<path d="M841.4,422 V658" stroke="#2c2c2c" stroke-width="1" fill="none" style="mix-blend-mode:lighten"/>
<path d="M858.3,422 V658" stroke="#212121" stroke-width="1" fill="none" style="mix-blend-mode:lighten"/>
<path d="M875.2,422 V658" stroke="#212121" stroke-width="1" fill="none" style="mix-blend-mode:lighten"/>
<path d="M892.2,422 V658" stroke="#212121" stroke-width="1" fill="none" style="mix-blend-mode:lighten"/>
<path d="M909.1,422 V658" stroke="#212121" stroke-width="1" fill="none" style="mix-blend-mode:lighten"/>
<path d="M926.0,422 V658" stroke="#282828" stroke-width="1" fill="none" style="mix-blend-mode:lighten"/>
<path d="M942.9,422 V658" stroke="#212121" stroke-width="1" fill="none" style="mix-blend-mode:lighten"/>
<path d="M959.8,422 V658" stroke="#212121" stroke-width="1" fill="none" style="mix-blend-mode:lighten"/>
<path d="M976.8,422 V658" stroke="#212121" stroke-width="1" fill="none" style="mix-blend-mode:lighten"/>
<path d="M993.7,422 V658" stroke="#212121" stroke-width="1" fill="none" style="mix-blend-mode:lighten"/>
<path d="M1010.6,422 V658" stroke="#2c2c2c" stroke-width="1" fill="none" style="mix-blend-mode:lighten"/>
<path d="M1027.5,422 V658" stroke="#212121" stroke-width="1" fill="none" style="mix-blend-mode:lighten"/>
<path d="M1044.4,422 V658" stroke="#212121" stroke-width="1" fill="none" style="mix-blend-mode:lighten"/>
<path d="M1061.4,422 V658" stroke="#212121" stroke-width="1" fill="none" style="mix-blend-mode:lighten"/>
<path d="M1078.3,422 V658" stroke="#212121" stroke-width="1" fill="none" style="mix-blend-mode:lighten"/>
<path d="M1095.2,422 V658" stroke="#282828" stroke-width="1" fill="none" style="mix-blend-mode:lighten"/>
<path d="M1112.1,422 V658" stroke="#212121" stroke-width="1" fill="none" style="mix-blend-mode:lighten"/>
<path d="M1129.0,422 V658" stroke="#212121" stroke-width="1" fill="none" style="mix-blend-mode:lighten"/>
<path d="M1146.0,422 V658" stroke="#212121" stroke-width="1" fill="none" style="mix-blend-mode:lighten"/>
<path d="M1162.9,422 V658" stroke="#212121" stroke-width="1" fill="none" style="mix-blend-mode:lighten"/>
<path d="M1179.8,422 V658" stroke="#2c2c2c" stroke-width="1" fill="none" style="mix-blend-mode:lighten"/>
<path d="M1196.7,422 V658" stroke="#212121" stroke-width="1" fill="none" style="mix-blend-mode:lighten"/>
<path d="M1213.6,422 V658" stroke="#212121" stroke-width="1" fill="none" style="mix-blend-mode:lighten"/>
<path d="M1230.6,422 V658" stroke="#212121" stroke-width="1" fill="none" style="mix-blend-mode:lighten"/>
<path d="M1247.5,422 V658" stroke="#212121" stroke-width="1" fill="none" style="mix-blend-mode:lighten"/>
<path d="M1264.4,422 V658" stroke="#282828" stroke-width="1" fill="none" style="mix-blend-mode:lighten"/>
<path d="M1281.3,422 V658" stroke="#212121" stroke-width="1" fill="none" style="mix-blend-mode:lighten"/>
<path d="M1298.2,422 V658" stroke="#212121" stroke-width="1" fill="none" style="mix-blend-mode:lighten"/>
<path d="M1315.2,422 V658" stroke="#212121" stroke-width="1" fill="none" style="mix-blend-mode:lighten"/>
<path d="M1332.1,422 V658" stroke="#212121" stroke-width="1" fill="none" style="mix-blend-mode:lighten"/>
<path d="M1349.0,422 V658" stroke="#2c2c2c" stroke-width="1" fill="none" style="mix-blend-mode:lighten"/>
<path d="M1365.9,422 V658" stroke="#212121" stroke-width="1" fill="none" style="mix-blend-mode:lighten"/>
<path d="M1382.8,422 V658" stroke="#212121" stroke-width="1" fill="none" style="mix-blend-mode:lighten"/>
<path d="M1399.8,422 V658" stroke="#212121" stroke-width="1" fill="none" style="mix-blend-mode:lighten"/>
<path d="M1416.7,422 V658" stroke="#212121" stroke-width="1" fill="none" style="mix-blend-mode:lighten"/>
<path d="M1433.6,422 V658" stroke="#282828" stroke-width="1" fill="none" style="mix-blend-mode:lighten"/>
<path d="M1450.5,422 V658" stroke="#212121" stroke-width="1" fill="none" style="mix-blend-mode:lighten"/>
<path d="M1467.4,422 V658" stroke="#212121" stroke-width="1" fill="none" style="mix-blend-mode:lighten"/>
<path d="M1484.4,422 V658" stroke="#212121" stroke-width="1" fill="none" style="mix-blend-mode:lighten"/>
<path d="M1501.3,422 V658" stroke="#212121" stroke-width="1" fill="none" style="mix-blend-mode:lighten"/>
<path d="M1518.2,422 V658" stroke="#2c2c2c" stroke-width="1" fill="none" style="mix-blend-mode:lighten"/>
<path d="M1535.1,422 V658" stroke="#212121" stroke-width="1" fill="none" style="mix-blend-mode:lighten"/>
<path d="M1552.0,422 V658" stroke="#212121" stroke-width="1" fill="none" style="mix-blend-mode:lighten"/>
<path d="M1569.0,422 V658" stroke="#212121" stroke-width="1" fill="none" style="mix-blend-mode:lighten"/>
<path d="M1585.9,422 V658" stroke="#212121" stroke-width="1" fill="none" style="mix-blend-mode:lighten"/>
<path d="M1602.8,422 V658" stroke="#282828" stroke-width="1" fill="none" style="mix-blend-mode:lighten"/>
<path d="M1619.7,422 V658" stroke="#212121" stroke-width="1" fill="none" style="mix-blend-mode:lighten"/>
<path d="M1636.6,422 V658" stroke="#212121" stroke-width="1" fill="none" style="mix-blend-mode:lighten"/>
<path d="M1653.6,422 V658" stroke="#212121" stroke-width="1" fill="none" style="mix-blend-mode:lighten"/>
<path d="M1670.5,422 V658" stroke="#212121" stroke-width="1" fill="none" style="mix-blend-mode:lighten"/>
<path d="M1687.4,422 V658" stroke="#2c2c2c" stroke-width="1" fill="none" style="mix-blend-mode:lighten"/>
<path d="M1704.3,422 V658" stroke="#212121" stroke-width="1" fill="none" style="mix-blend-mode:lighten"/>
<path d="M1721.2,422 V658" stroke="#212121" stroke-width="1" fill="none" style="mix-blend-mode:lighten"/>
<path d="M1738.2,422 V658" stroke="#212121" stroke-width="1" fill="none" style="mix-blend-mode:lighten"/>
<path d="M1755.1,422 V658" stroke="#212121" stroke-width="1" fill="none" style="mix-blend-mode:lighten"/>
<path d="M1772.0,422 V658" stroke="#282828" stroke-width="1" fill="none" style="mix-blend-mode:lighten"/>
<path d="M1788.9,422 V658" stroke="#212121" stroke-width="1" fill="none" style="mix-blend-mode:lighten"/>
<path d="M467.7,643.1 H1803" stroke="#2b2b2b" stroke-width="1" fill="none" style="mix-blend-mode:lighten"/>
<path d="M467.7,608.8 H1803" stroke="#272727" stroke-width="1" fill="none" style="mix-blend-mode:lighten"/>
<path d="M467.7,574.5 H1803" stroke="#2b2b2b" stroke-width="1" fill="none" style="mix-blend-mode:lighten"/>
<path d="M467.7,540.2 H1803" stroke="#272727" stroke-width="1" fill="none" style="mix-blend-mode:lighten"/>
<path d="M467.7,505.9 H1803" stroke="#2b2b2b" stroke-width="1" fill="none" style="mix-blend-mode:lighten"/>
<path d="M467.7,471.6 H1803" stroke="#272727" stroke-width="1" fill="none" style="mix-blend-mode:lighten"/>
<path d="M467.7,437.2 H1803" stroke="#2b2b2b" stroke-width="1" fill="none" style="mix-blend-mode:lighten"/>
<path d="M467.5,422 V658.5 H1803" stroke="#8e8e8e" stroke-width="1" fill="none"/>
<text x="503.0" y="672.0" font-size="13.9" fill="#dcdcdc" text-anchor="middle" stroke="#dcdcdc" stroke-width="0.3">0</text>
<text x="587.6" y="672.0" font-size="13.9" fill="#dcdcdc" text-anchor="middle" stroke="#dcdcdc" stroke-width="0.3">5</text>
<text x="672.2" y="672.0" font-size="13.9" fill="#dcdcdc" text-anchor="middle" stroke="#dcdcdc" stroke-width="0.3">10</text>
<text x="756.8" y="672.0" font-size="13.9" fill="#dcdcdc" text-anchor="middle" stroke="#dcdcdc" stroke-width="0.3">15</text>
<text x="841.4" y="672.0" font-size="13.9" fill="#dcdcdc" text-anchor="middle" stroke="#dcdcdc" stroke-width="0.3">20</text>
<text x="926.0" y="672.0" font-size="13.9" fill="#dcdcdc" text-anchor="middle" stroke="#dcdcdc" stroke-width="0.3">25</text>
<text x="1010.6" y="672.0" font-size="13.9" fill="#dcdcdc" text-anchor="middle" stroke="#dcdcdc" stroke-width="0.3">30</text>
<text x="1095.2" y="672.0" font-size="13.9" fill="#dcdcdc" text-anchor="middle" stroke="#dcdcdc" stroke-width="0.3">35</text>
<text x="1179.8" y="672.0" font-size="13.9" fill="#dcdcdc" text-anchor="middle" stroke="#dcdcdc" stroke-width="0.3">40</text>
<text x="1264.4" y="672.0" font-size="13.9" fill="#dcdcdc" text-anchor="middle" stroke="#dcdcdc" stroke-width="0.3">45</text>
<text x="1349.0" y="672.0" font-size="13.9" fill="#dcdcdc" text-anchor="middle" stroke="#dcdcdc" stroke-width="0.3">50</text>
<text x="1433.6" y="672.0" font-size="13.9" fill="#dcdcdc" text-anchor="middle" stroke="#dcdcdc" stroke-width="0.3">55</text>
<text x="1518.2" y="672.0" font-size="13.9" fill="#dcdcdc" text-anchor="middle" stroke="#dcdcdc" stroke-width="0.3">60</text>
<text x="1602.8" y="672.0" font-size="13.9" fill="#dcdcdc" text-anchor="middle" stroke="#dcdcdc" stroke-width="0.3">65</text>
<text x="1687.4" y="672.0" font-size="13.9" fill="#dcdcdc" text-anchor="middle" stroke="#dcdcdc" stroke-width="0.3">70</text>
<text x="1772.0" y="672.0" font-size="13.9" fill="#dcdcdc" text-anchor="middle" stroke="#dcdcdc" stroke-width="0.3">75</text>
<text x="463.7" y="647.9" font-size="13.9" fill="#dcdcdc" text-anchor="end" stroke="#dcdcdc" stroke-width="0.3">0</text>
<text x="463.7" y="613.6" font-size="13.9" fill="#dcdcdc" text-anchor="end" stroke="#dcdcdc" stroke-width="0.3">0.5</text>
<text x="463.7" y="579.3" font-size="13.9" fill="#dcdcdc" text-anchor="end" stroke="#dcdcdc" stroke-width="0.3">1</text>
<text x="463.7" y="545.0" font-size="13.9" fill="#dcdcdc" text-anchor="end" stroke="#dcdcdc" stroke-width="0.3">1.5</text>
<text x="463.7" y="510.7" font-size="13.9" fill="#dcdcdc" text-anchor="end" stroke="#dcdcdc" stroke-width="0.3">2</text>
<text x="463.7" y="476.4" font-size="13.9" fill="#dcdcdc" text-anchor="end" stroke="#dcdcdc" stroke-width="0.3">2.5</text>
<text x="463.7" y="442.0" font-size="13.9" fill="#dcdcdc" text-anchor="end" stroke="#dcdcdc" stroke-width="0.3">3</text>
<text x="1132.8" y="694.0" font-size="13.28" fill="#e0e0e0" text-anchor="middle" stroke="#e0e0e0" stroke-width="0.3">Time (seconds)</text>
<text transform="translate(436.4,541.0) rotate(-90)" x="0" y="0" font-size="13.27" fill="#bdbdbd" stroke="#bdbdbd" stroke-width="0.25" text-anchor="middle">TX Retries/TX Failed/Activity</text>
<rect x="424" y="706" width="685.5999999999999" height="27.5" rx="6" fill="#2a2a2a"/>
<path d="M424.5,733.5 V712.5 Q424.5,706.5 430.5,706.5 H1103.1 Q1109.1,706.5 1109.1,712.5 V733.5" fill="none" stroke="#424242" stroke-width="1"/>
<text x="432.3" y="725" font-size="12.47" fill="#fff" font-weight="bold">Estimated TX Throughput</text>
<rect x="1086.0" y="710.5" width="16" height="20" rx="4" fill="#3a3a3a" stroke="#535353" stroke-width="1"/>
<path d="M1090.0,724.5 L1097.0,717.5 M1091.5,717.3 H1097.2 V723.0" stroke="#fff" stroke-width="2" fill="none"/>
<rect x="744.5" y="735" width="75.2" height="21" fill="#131313"/>
<text x="748.1" y="749.8" font-size="11.93" fill="#fff" stroke="#fff" stroke-width="0.25">(32.5s, 6.32)</text>
<polyline points="481.5,954.6 509.7,751.1 537.9,839.4 566.0,798.1 594.2,750.5 622.4,839.4 650.6,798.1 678.8,798.1 706.9,798.1 735.1,798.1 763.3,798.1 791.5,839.1 819.7,766.8 847.8,825.0 876.0,801.2 904.2,805.9 932.4,801.2 960.6,839.1 988.7,749.9 1016.9,839.1 1045.1,801.2" fill="none" stroke="#1f77b4" stroke-width="2" stroke-linejoin="miter" stroke-miterlimit="3"/>
<polyline points="481.5,954.6 509.7,756.8 537.9,839.4 566.0,798.1 594.2,757.1 622.4,839.4 650.6,798.1 678.8,798.1 706.9,798.1 735.1,798.1 763.3,798.1 791.5,839.1 819.7,766.8 847.8,825.0 876.0,801.2 904.2,801.2 932.4,801.2 960.6,839.1 988.7,749.9 1016.9,839.1 1045.1,792.8" fill="none" stroke="#ff7f0e" stroke-width="2" stroke-linejoin="miter" stroke-miterlimit="3"/>
<path d="M744.5,737 V969" stroke="#c8c8c8" stroke-width="1" stroke-dasharray="4,2" fill="none"/>
<path d="M456.5,757.5 H1109.6" stroke="#c8c8c8" stroke-width="1" stroke-dasharray="4,2" fill="none"/>
<rect x="487.5" y="765.5" width="310.0" height="66.0" fill="#1e1e1e" stroke="#777777" stroke-width="1"/>
<line x1="495.2" y1="785" x2="517" y2="785" stroke="#1f77b4" stroke-width="2.5"/>
<text x="525.5" y="791" font-size="13.45" fill="#fff" stroke-width="0.3"><tspan fill="#fff" stroke="#fff">Estimated TX Throughput (fc:1e): </tspan><tspan fill="#ffd700" stroke="#ffd700">4.9</tspan><tspan fill="#fff" stroke="#fff"> kbps</tspan></text>
<line x1="495.2" y1="809" x2="517" y2="809" stroke="#ff7f0e" stroke-width="2.5"/>
<text x="525.5" y="815" font-size="13.45" fill="#fff" stroke-width="0.3"><tspan fill="#fff" stroke="#fff">Estimated TX Throughput (84:8d): </tspan><tspan fill="#ffd700" stroke="#ffd700">5.1</tspan><tspan fill="#fff" stroke="#fff"> kbps</tspan></text>
<path d="M465.3,734 V969" stroke="#212121" stroke-width="1" fill="none" style="mix-blend-mode:lighten"/>
<path d="M481.5,734 V969" stroke="#2c2c2c" stroke-width="1" fill="none" style="mix-blend-mode:lighten"/>
<path d="M497.7,734 V969" stroke="#212121" stroke-width="1" fill="none" style="mix-blend-mode:lighten"/>
<path d="M513.8,734 V969" stroke="#212121" stroke-width="1" fill="none" style="mix-blend-mode:lighten"/>
<path d="M530.0,734 V969" stroke="#212121" stroke-width="1" fill="none" style="mix-blend-mode:lighten"/>
<path d="M546.1,734 V969" stroke="#212121" stroke-width="1" fill="none" style="mix-blend-mode:lighten"/>
<path d="M562.3,734 V969" stroke="#282828" stroke-width="1" fill="none" style="mix-blend-mode:lighten"/>
<path d="M578.4,734 V969" stroke="#212121" stroke-width="1" fill="none" style="mix-blend-mode:lighten"/>
<path d="M594.6,734 V969" stroke="#212121" stroke-width="1" fill="none" style="mix-blend-mode:lighten"/>
<path d="M610.8,734 V969" stroke="#212121" stroke-width="1" fill="none" style="mix-blend-mode:lighten"/>
<path d="M626.9,734 V969" stroke="#212121" stroke-width="1" fill="none" style="mix-blend-mode:lighten"/>
<path d="M643.1,734 V969" stroke="#2c2c2c" stroke-width="1" fill="none" style="mix-blend-mode:lighten"/>
<path d="M659.2,734 V969" stroke="#212121" stroke-width="1" fill="none" style="mix-blend-mode:lighten"/>
<path d="M675.4,734 V969" stroke="#212121" stroke-width="1" fill="none" style="mix-blend-mode:lighten"/>
<path d="M691.6,734 V969" stroke="#212121" stroke-width="1" fill="none" style="mix-blend-mode:lighten"/>
<path d="M707.7,734 V969" stroke="#212121" stroke-width="1" fill="none" style="mix-blend-mode:lighten"/>
<path d="M723.9,734 V969" stroke="#282828" stroke-width="1" fill="none" style="mix-blend-mode:lighten"/>
<path d="M740.0,734 V969" stroke="#212121" stroke-width="1" fill="none" style="mix-blend-mode:lighten"/>
<path d="M756.2,734 V969" stroke="#212121" stroke-width="1" fill="none" style="mix-blend-mode:lighten"/>
<path d="M772.3,734 V969" stroke="#212121" stroke-width="1" fill="none" style="mix-blend-mode:lighten"/>
<path d="M788.5,734 V969" stroke="#212121" stroke-width="1" fill="none" style="mix-blend-mode:lighten"/>
<path d="M804.7,734 V969" stroke="#2c2c2c" stroke-width="1" fill="none" style="mix-blend-mode:lighten"/>
<path d="M820.8,734 V969" stroke="#212121" stroke-width="1" fill="none" style="mix-blend-mode:lighten"/>
<path d="M837.0,734 V969" stroke="#212121" stroke-width="1" fill="none" style="mix-blend-mode:lighten"/>
<path d="M853.1,734 V969" stroke="#212121" stroke-width="1" fill="none" style="mix-blend-mode:lighten"/>
<path d="M869.3,734 V969" stroke="#212121" stroke-width="1" fill="none" style="mix-blend-mode:lighten"/>
<path d="M885.5,734 V969" stroke="#282828" stroke-width="1" fill="none" style="mix-blend-mode:lighten"/>
<path d="M901.6,734 V969" stroke="#212121" stroke-width="1" fill="none" style="mix-blend-mode:lighten"/>
<path d="M917.8,734 V969" stroke="#212121" stroke-width="1" fill="none" style="mix-blend-mode:lighten"/>
<path d="M933.9,734 V969" stroke="#212121" stroke-width="1" fill="none" style="mix-blend-mode:lighten"/>
<path d="M950.1,734 V969" stroke="#212121" stroke-width="1" fill="none" style="mix-blend-mode:lighten"/>
<path d="M966.2,734 V969" stroke="#2c2c2c" stroke-width="1" fill="none" style="mix-blend-mode:lighten"/>
<path d="M982.4,734 V969" stroke="#212121" stroke-width="1" fill="none" style="mix-blend-mode:lighten"/>
<path d="M998.6,734 V969" stroke="#212121" stroke-width="1" fill="none" style="mix-blend-mode:lighten"/>
<path d="M1014.7,734 V969" stroke="#212121" stroke-width="1" fill="none" style="mix-blend-mode:lighten"/>
<path d="M1030.9,734 V969" stroke="#212121" stroke-width="1" fill="none" style="mix-blend-mode:lighten"/>
<path d="M1047.0,734 V969" stroke="#282828" stroke-width="1" fill="none" style="mix-blend-mode:lighten"/>
<path d="M1063.2,734 V969" stroke="#212121" stroke-width="1" fill="none" style="mix-blend-mode:lighten"/>
<path d="M1079.3,734 V969" stroke="#212121" stroke-width="1" fill="none" style="mix-blend-mode:lighten"/>
<path d="M1095.5,734 V969" stroke="#212121" stroke-width="1" fill="none" style="mix-blend-mode:lighten"/>
<path d="M456.5,954.6 H1109.6" stroke="#2b2b2b" stroke-width="1" fill="none" style="mix-blend-mode:lighten"/>
<path d="M456.5,923.3 H1109.6" stroke="#1f1f1f" stroke-width="1" fill="none" style="mix-blend-mode:lighten"/>
<path d="M456.5,892.0 H1109.6" stroke="#2b2b2b" stroke-width="1" fill="none" style="mix-blend-mode:lighten"/>
<path d="M456.5,860.7 H1109.6" stroke="#1f1f1f" stroke-width="1" fill="none" style="mix-blend-mode:lighten"/>
<path d="M456.5,829.4 H1109.6" stroke="#2b2b2b" stroke-width="1" fill="none" style="mix-blend-mode:lighten"/>
<path d="M456.5,798.1 H1109.6" stroke="#1f1f1f" stroke-width="1" fill="none" style="mix-blend-mode:lighten"/>
<path d="M456.5,766.8 H1109.6" stroke="#2b2b2b" stroke-width="1" fill="none" style="mix-blend-mode:lighten"/>
<path d="M456.5,735.5 H1109.6" stroke="#1f1f1f" stroke-width="1" fill="none" style="mix-blend-mode:lighten"/>
<path d="M456.5,734 V969.5 H1109.6" stroke="#8e8e8e" stroke-width="1" fill="none"/>
<text x="481.5" y="983.0" font-size="13.9" fill="#dcdcdc" text-anchor="middle" stroke="#dcdcdc" stroke-width="0.3">0</text>
<text x="562.3" y="983.0" font-size="13.9" fill="#dcdcdc" text-anchor="middle" stroke="#dcdcdc" stroke-width="0.3">10</text>
<text x="643.1" y="983.0" font-size="13.9" fill="#dcdcdc" text-anchor="middle" stroke="#dcdcdc" stroke-width="0.3">20</text>
<text x="723.9" y="983.0" font-size="13.9" fill="#dcdcdc" text-anchor="middle" stroke="#dcdcdc" stroke-width="0.3">30</text>
<text x="804.7" y="983.0" font-size="13.9" fill="#dcdcdc" text-anchor="middle" stroke="#dcdcdc" stroke-width="0.3">40</text>
<text x="885.5" y="983.0" font-size="13.9" fill="#dcdcdc" text-anchor="middle" stroke="#dcdcdc" stroke-width="0.3">50</text>
<text x="966.2" y="983.0" font-size="13.9" fill="#dcdcdc" text-anchor="middle" stroke="#dcdcdc" stroke-width="0.3">60</text>
<text x="1047.0" y="983.0" font-size="13.9" fill="#dcdcdc" text-anchor="middle" stroke="#dcdcdc" stroke-width="0.3">70</text>
<text x="452.5" y="959.4" font-size="13.9" fill="#dcdcdc" text-anchor="end" stroke="#dcdcdc" stroke-width="0.3">0</text>
<text x="452.5" y="896.8" font-size="13.9" fill="#dcdcdc" text-anchor="end" stroke="#dcdcdc" stroke-width="0.3">2</text>
<text x="452.5" y="834.2" font-size="13.9" fill="#dcdcdc" text-anchor="end" stroke="#dcdcdc" stroke-width="0.3">4</text>
<text x="452.5" y="771.6" font-size="13.9" fill="#dcdcdc" text-anchor="end" stroke="#dcdcdc" stroke-width="0.3">6</text>
<text x="780.5" y="1005.0" font-size="13.28" fill="#e0e0e0" text-anchor="middle" stroke="#e0e0e0" stroke-width="0.3">Time (seconds)</text>
<text transform="translate(436.4,853.7) rotate(-90)" x="0" y="0" font-size="13.6" fill="#bdbdbd" stroke="#bdbdbd" stroke-width="0.25" text-anchor="middle">TX Throughput(kbps)</text>
<rect x="1118.2" y="706" width="684.8" height="27.5" rx="6" fill="#2a2a2a"/>
<path d="M1118.7,733.5 V712.5 Q1118.7,706.5 1124.7,706.5 H1796.5 Q1802.5,706.5 1802.5,712.5 V733.5" fill="none" stroke="#424242" stroke-width="1"/>
<text x="1126.5" y="725" font-size="12.47" fill="#fff" font-weight="bold">MCS Rates &amp; LNA Status</text>
<rect x="1779.0" y="710.5" width="16" height="20" rx="4" fill="#3a3a3a" stroke="#535353" stroke-width="1"/>
<path d="M1783.0,724.5 L1790.0,717.5 M1784.5,717.3 H1790.2 V723.0" stroke="#fff" stroke-width="2" fill="none"/>
<rect x="1569.6" y="943" width="74.2" height="20.3" fill="#131313"/>
<text x="1573" y="957.5" font-size="11.93" fill="#fff" stroke="#fff" stroke-width="0.25">(48.2s, 0.26)</text>
<polyline points="1185.9,953.7 1213.6,953.7 1241.3,953.7 1269.0,953.7 1296.7,953.7 1324.4,953.7 1352.0,953.7 1379.7,953.7 1407.4,953.7 1435.1,953.7 1462.8,953.7 1490.5,953.7 1518.2,953.7 1545.9,953.7 1573.6,953.7 1601.2,953.7 1628.9,953.7 1656.6,953.7 1684.3,953.7 1712.0,953.7 1739.7,953.7" fill="none" stroke="#1f77b4" stroke-width="2" stroke-linejoin="miter" stroke-miterlimit="3"/>
<polyline points="1185.9,792.9 1213.6,880.6 1241.3,880.6 1269.0,880.6 1296.7,866.0 1324.4,866.0 1352.0,866.0 1379.7,866.0 1407.4,866.0 1435.1,866.0 1462.8,909.8 1490.5,866.0 1518.2,866.0 1545.9,866.0 1573.6,866.0 1601.2,866.0 1628.9,866.0 1656.6,866.0 1684.3,866.0 1712.0,866.0 1739.7,866.0" fill="none" stroke="#ff7f0e" stroke-width="2" stroke-linejoin="miter" stroke-miterlimit="3"/>
<polyline points="1185.9,763.6 1213.6,778.2 1241.3,778.2 1269.0,778.2 1296.7,778.2 1324.4,778.2 1352.0,778.2 1379.7,778.2 1407.4,778.2 1435.1,778.2 1462.8,778.2 1490.5,778.2 1518.2,778.2 1545.9,778.2 1573.6,778.2 1601.2,749.0 1628.9,778.2 1656.6,778.2 1684.3,778.2 1712.0,763.6 1739.7,763.6" fill="none" stroke="#2ca02c" stroke-width="2" stroke-linejoin="miter" stroke-miterlimit="3"/>
<path d="M1568.5,737 V969" stroke="#c8c8c8" stroke-width="1" stroke-dasharray="4,2" fill="none"/>
<path d="M1161.7,964.5 H1803" stroke="#c8c8c8" stroke-width="1" stroke-dasharray="4,2" fill="none"/>
<rect x="1192.5" y="765.5" width="150.0" height="90.0" fill="#1e1e1e" stroke="#777777" stroke-width="1"/>
<line x1="1201.2" y1="785" x2="1223.3" y2="785" stroke="#1f77b4" stroke-width="2.5"/>
<text x="1231.3" y="791" font-size="13.45" fill="#fff" stroke-width="0.3"><tspan fill="#fff" stroke="#fff">LNA Status: </tspan><tspan fill="#ffd700" stroke="#ffd700">1</tspan></text>
<line x1="1201.2" y1="809" x2="1223.3" y2="809" stroke="#ff7f0e" stroke-width="2.5"/>
<text x="1231.3" y="815" font-size="13.45" fill="#fff" stroke-width="0.3"><tspan fill="#fff" stroke="#fff">MCS (fc:1e): </tspan><tspan fill="#ffd700" stroke="#ffd700">7</tspan></text>
<line x1="1201.2" y1="833" x2="1223.3" y2="833" stroke="#2ca02c" stroke-width="2.5"/>
<text x="1231.3" y="839" font-size="13.45" fill="#fff" stroke-width="0.3"><tspan fill="#fff" stroke="#fff">MCS (84:8d): </tspan><tspan fill="#ffd700" stroke="#ffd700">14</tspan></text>
<path d="M1170.1,734 V969" stroke="#212121" stroke-width="1" fill="none" style="mix-blend-mode:lighten"/>
<path d="M1185.9,734 V969" stroke="#2c2c2c" stroke-width="1" fill="none" style="mix-blend-mode:lighten"/>
<path d="M1201.7,734 V969" stroke="#212121" stroke-width="1" fill="none" style="mix-blend-mode:lighten"/>
<path d="M1217.6,734 V969" stroke="#212121" stroke-width="1" fill="none" style="mix-blend-mode:lighten"/>
<path d="M1233.4,734 V969" stroke="#212121" stroke-width="1" fill="none" style="mix-blend-mode:lighten"/>
<path d="M1249.3,734 V969" stroke="#212121" stroke-width="1" fill="none" style="mix-blend-mode:lighten"/>
<path d="M1265.1,734 V969" stroke="#282828" stroke-width="1" fill="none" style="mix-blend-mode:lighten"/>
<path d="M1281.0,734 V969" stroke="#212121" stroke-width="1" fill="none" style="mix-blend-mode:lighten"/>
<path d="M1296.8,734 V969" stroke="#212121" stroke-width="1" fill="none" style="mix-blend-mode:lighten"/>
<path d="M1312.7,734 V969" stroke="#212121" stroke-width="1" fill="none" style="mix-blend-mode:lighten"/>
<path d="M1328.5,734 V969" stroke="#212121" stroke-width="1" fill="none" style="mix-blend-mode:lighten"/>
<path d="M1344.4,734 V969" stroke="#2c2c2c" stroke-width="1" fill="none" style="mix-blend-mode:lighten"/>
<path d="M1360.2,734 V969" stroke="#212121" stroke-width="1" fill="none" style="mix-blend-mode:lighten"/>
<path d="M1376.1,734 V969" stroke="#212121" stroke-width="1" fill="none" style="mix-blend-mode:lighten"/>
<path d="M1391.9,734 V969" stroke="#212121" stroke-width="1" fill="none" style="mix-blend-mode:lighten"/>
<path d="M1407.7,734 V969" stroke="#212121" stroke-width="1" fill="none" style="mix-blend-mode:lighten"/>
<path d="M1423.6,734 V969" stroke="#282828" stroke-width="1" fill="none" style="mix-blend-mode:lighten"/>
<path d="M1439.4,734 V969" stroke="#212121" stroke-width="1" fill="none" style="mix-blend-mode:lighten"/>
<path d="M1455.3,734 V969" stroke="#212121" stroke-width="1" fill="none" style="mix-blend-mode:lighten"/>
<path d="M1471.1,734 V969" stroke="#212121" stroke-width="1" fill="none" style="mix-blend-mode:lighten"/>
<path d="M1487.0,734 V969" stroke="#212121" stroke-width="1" fill="none" style="mix-blend-mode:lighten"/>
<path d="M1502.8,734 V969" stroke="#2c2c2c" stroke-width="1" fill="none" style="mix-blend-mode:lighten"/>
<path d="M1518.7,734 V969" stroke="#212121" stroke-width="1" fill="none" style="mix-blend-mode:lighten"/>
<path d="M1534.5,734 V969" stroke="#212121" stroke-width="1" fill="none" style="mix-blend-mode:lighten"/>
<path d="M1550.4,734 V969" stroke="#212121" stroke-width="1" fill="none" style="mix-blend-mode:lighten"/>
<path d="M1566.2,734 V969" stroke="#212121" stroke-width="1" fill="none" style="mix-blend-mode:lighten"/>
<path d="M1582.1,734 V969" stroke="#282828" stroke-width="1" fill="none" style="mix-blend-mode:lighten"/>
<path d="M1597.9,734 V969" stroke="#212121" stroke-width="1" fill="none" style="mix-blend-mode:lighten"/>
<path d="M1613.7,734 V969" stroke="#212121" stroke-width="1" fill="none" style="mix-blend-mode:lighten"/>
<path d="M1629.6,734 V969" stroke="#212121" stroke-width="1" fill="none" style="mix-blend-mode:lighten"/>
<path d="M1645.4,734 V969" stroke="#212121" stroke-width="1" fill="none" style="mix-blend-mode:lighten"/>
<path d="M1661.3,734 V969" stroke="#2c2c2c" stroke-width="1" fill="none" style="mix-blend-mode:lighten"/>
<path d="M1677.1,734 V969" stroke="#212121" stroke-width="1" fill="none" style="mix-blend-mode:lighten"/>
<path d="M1693.0,734 V969" stroke="#212121" stroke-width="1" fill="none" style="mix-blend-mode:lighten"/>
<path d="M1708.8,734 V969" stroke="#212121" stroke-width="1" fill="none" style="mix-blend-mode:lighten"/>
<path d="M1724.7,734 V969" stroke="#212121" stroke-width="1" fill="none" style="mix-blend-mode:lighten"/>
<path d="M1740.5,734 V969" stroke="#282828" stroke-width="1" fill="none" style="mix-blend-mode:lighten"/>
<path d="M1756.4,734 V969" stroke="#212121" stroke-width="1" fill="none" style="mix-blend-mode:lighten"/>
<path d="M1772.2,734 V969" stroke="#212121" stroke-width="1" fill="none" style="mix-blend-mode:lighten"/>
<path d="M1788.0,734 V969" stroke="#212121" stroke-width="1" fill="none" style="mix-blend-mode:lighten"/>
<path d="M1161.7,968.3 H1803" stroke="#2b2b2b" stroke-width="1" fill="none" style="mix-blend-mode:lighten"/>
<path d="M1161.7,953.7 H1803" stroke="#1f1f1f" stroke-width="1" fill="none" style="mix-blend-mode:lighten"/>
<path d="M1161.7,939.1 H1803" stroke="#1f1f1f" stroke-width="1" fill="none" style="mix-blend-mode:lighten"/>
<path d="M1161.7,924.4 H1803" stroke="#1f1f1f" stroke-width="1" fill="none" style="mix-blend-mode:lighten"/>
<path d="M1161.7,909.8 H1803" stroke="#1f1f1f" stroke-width="1" fill="none" style="mix-blend-mode:lighten"/>
<path d="M1161.7,895.2 H1803" stroke="#2b2b2b" stroke-width="1" fill="none" style="mix-blend-mode:lighten"/>
<path d="M1161.7,880.6 H1803" stroke="#1f1f1f" stroke-width="1" fill="none" style="mix-blend-mode:lighten"/>
<path d="M1161.7,866.0 H1803" stroke="#1f1f1f" stroke-width="1" fill="none" style="mix-blend-mode:lighten"/>
<path d="M1161.7,851.3 H1803" stroke="#1f1f1f" stroke-width="1" fill="none" style="mix-blend-mode:lighten"/>
<path d="M1161.7,836.7 H1803" stroke="#1f1f1f" stroke-width="1" fill="none" style="mix-blend-mode:lighten"/>
<path d="M1161.7,822.1 H1803" stroke="#2b2b2b" stroke-width="1" fill="none" style="mix-blend-mode:lighten"/>
<path d="M1161.7,807.5 H1803" stroke="#1f1f1f" stroke-width="1" fill="none" style="mix-blend-mode:lighten"/>
<path d="M1161.7,792.9 H1803" stroke="#1f1f1f" stroke-width="1" fill="none" style="mix-blend-mode:lighten"/>
<path d="M1161.7,778.2 H1803" stroke="#1f1f1f" stroke-width="1" fill="none" style="mix-blend-mode:lighten"/>
<path d="M1161.7,763.6 H1803" stroke="#1f1f1f" stroke-width="1" fill="none" style="mix-blend-mode:lighten"/>
<path d="M1161.7,749.0 H1803" stroke="#2b2b2b" stroke-width="1" fill="none" style="mix-blend-mode:lighten"/>
<path d="M1161.7,734.4 H1803" stroke="#1f1f1f" stroke-width="1" fill="none" style="mix-blend-mode:lighten"/>
<path d="M1161.5,734 V969.5 H1803" stroke="#8e8e8e" stroke-width="1" fill="none"/>
<text x="1185.9" y="983.0" font-size="13.9" fill="#dcdcdc" text-anchor="middle" stroke="#dcdcdc" stroke-width="0.3">0</text>
<text x="1265.1" y="983.0" font-size="13.9" fill="#dcdcdc" text-anchor="middle" stroke="#dcdcdc" stroke-width="0.3">10</text>
<text x="1344.4" y="983.0" font-size="13.9" fill="#dcdcdc" text-anchor="middle" stroke="#dcdcdc" stroke-width="0.3">20</text>
<text x="1423.6" y="983.0" font-size="13.9" fill="#dcdcdc" text-anchor="middle" stroke="#dcdcdc" stroke-width="0.3">30</text>
<text x="1502.8" y="983.0" font-size="13.9" fill="#dcdcdc" text-anchor="middle" stroke="#dcdcdc" stroke-width="0.3">40</text>
<text x="1582.1" y="983.0" font-size="13.9" fill="#dcdcdc" text-anchor="middle" stroke="#dcdcdc" stroke-width="0.3">50</text>
<text x="1661.3" y="983.0" font-size="13.9" fill="#dcdcdc" text-anchor="middle" stroke="#dcdcdc" stroke-width="0.3">60</text>
<text x="1740.5" y="983.0" font-size="13.9" fill="#dcdcdc" text-anchor="middle" stroke="#dcdcdc" stroke-width="0.3">70</text>
<text x="1157.7" y="900.0" font-size="13.9" fill="#dcdcdc" text-anchor="end" stroke="#dcdcdc" stroke-width="0.3">5</text>
<text x="1157.7" y="826.9" font-size="13.9" fill="#dcdcdc" text-anchor="end" stroke="#dcdcdc" stroke-width="0.3">10</text>
<text x="1157.7" y="753.8" font-size="13.9" fill="#dcdcdc" text-anchor="end" stroke="#dcdcdc" stroke-width="0.3">15</text>
<text x="1479.8" y="1005.0" font-size="13.28" fill="#e0e0e0" text-anchor="middle" stroke="#e0e0e0" stroke-width="0.3">Time (seconds)</text>
<text transform="translate(1131.5,852.0) rotate(-90)" x="0" y="0" font-size="13.1" fill="#bdbdbd" stroke="#bdbdbd" stroke-width="0.25" text-anchor="middle">MCS Rates/LNA Status</text>
</svg></body></html>
